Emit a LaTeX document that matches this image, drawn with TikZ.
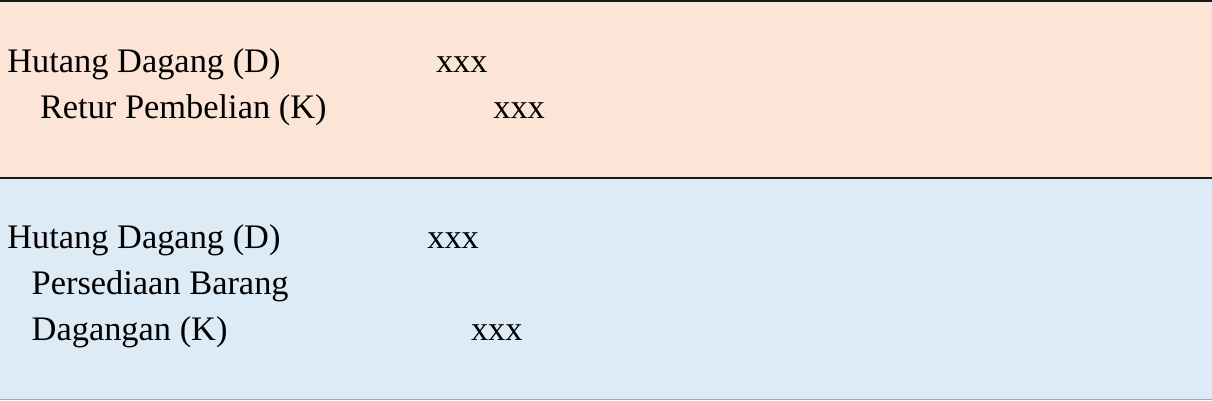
\documentclass[tikz,border=0pt]{standalone}
\usepackage{fontspec}
\setmainfont{Liberation Serif}
\definecolor{peach}{RGB}{252,228,214}
\definecolor{paleblue}{RGB}{221,235,247}
\definecolor{bottomline}{RGB}{160,168,178}
\tikzset{
  lbl/.style={anchor=base west, inner sep=0pt, outer sep=0pt, font=\fontsize{34.4}{41}\selectfont, text=black},
  rule/.style={line width=2pt, draw=black!90},
}
\begin{document}
\begin{tikzpicture}[x=1pt,y=-1pt]
\useasboundingbox (0,0) rectangle (1212,400);
\fill[peach] (0,0) rectangle (1212,178);
\fill[paleblue] (0,178) rectangle (1212,400);
\coordinate (tl) at (0,1);
\coordinate (tr) at (1212,1);
\coordinate (ml) at (0,177.5);
\coordinate (mr) at (1212,177.5);
\coordinate (bl) at (0,399.4);
\coordinate (br) at (1212,399.4);
\draw[rule] (tl) -- (tr);
\draw[rule] (ml) -- (mr);
\draw[line width=1.2pt, bottomline] (bl) -- (br);
% top section
\node[lbl] (hd1) at (7.3,72.7) {Hutang Dagang (D)};
\node[lbl] (x1) at (436,72.7) {xxx};
\node[lbl] (rp) at (40,118.3) {Retur Pembelian (K)};
\node[lbl] (x2) at (493.3,118.3) {xxx};
% bottom section
\node[lbl] (hd2) at (7.3,248.3) {Hutang Dagang (D)};
\node[lbl] (x3) at (427.3,248.3) {xxx};
\node[lbl] (pb) at (31.7,294.3) {Persediaan Barang};
\node[lbl] (dg) at (31.7,340.3) {Dagangan (K)};
\node[lbl] (x4) at (471,340.3) {xxx};
\end{tikzpicture}
\end{document}
